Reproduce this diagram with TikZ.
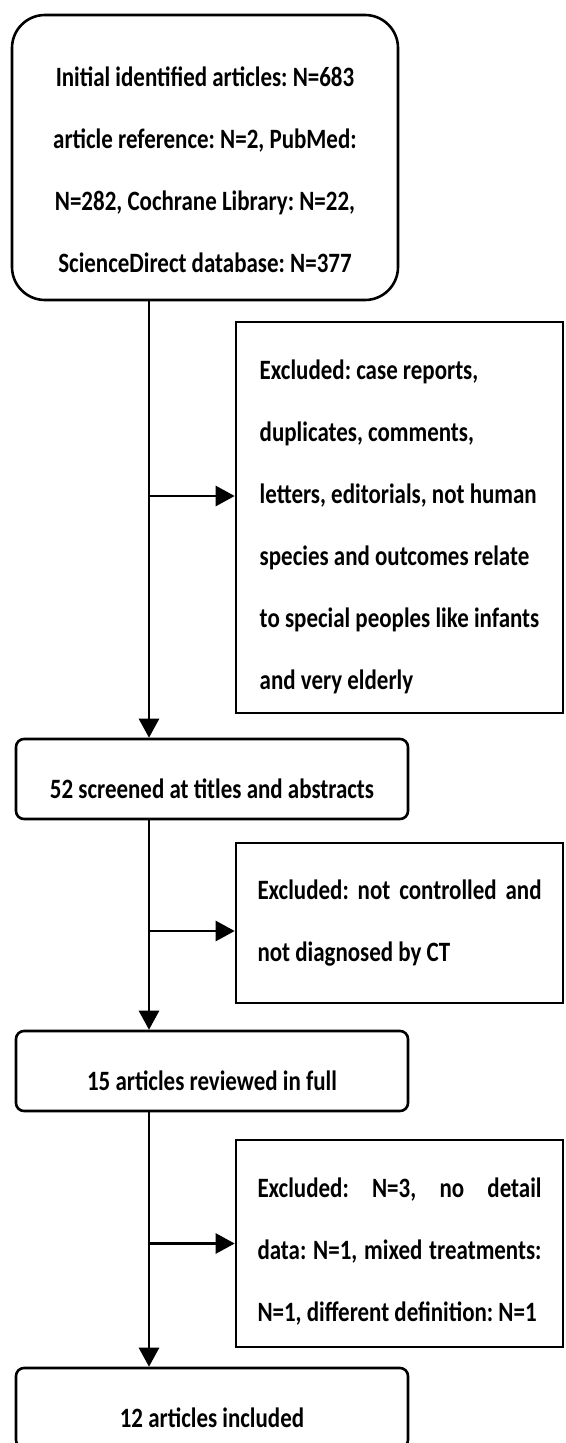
\documentclass[tikz,border=0pt]{standalone}
\usepackage{fontspec}
\setmainfont[FakeStretch=0.82]{Carlito}
\usepackage{tikz}
\usetikzlibrary{arrows.meta}
\frenchspacing

\begin{document}
\begin{tikzpicture}[
  x=1pt, y=-1pt,
  boxfont/.style={font=\fontsize{28}{62}\selectfont\bfseries},
  topbox/.style={boxfont, draw=black, line width=2.6pt, rounded corners=33pt, align=center, inner sep=0pt, minimum width=386pt, minimum height=285pt},
  flowbox/.style={boxfont, draw=black, line width=2.6pt, rounded corners=8pt, inner sep=0pt, minimum width=392pt, minimum height=80pt, text height=38pt, text depth=0pt},
  exclbox/.style={boxfont, draw=black, line width=2.6pt, inner sep=0pt, minimum width=327pt, align=left},
  arr/.style={-{Triangle[length=19pt, width=20pt]}, line width=2.6pt, draw=black}
]
\useasboundingbox (0,0) rectangle (565,1443);
\clip (0,0) rectangle (565,1443);
\coordinate (spine) at (149,0);
\node[topbox] (init) at (205,157.5) {\rule{0pt}{44pt}Initial identified articles: N=683\\article reference: N=2, PubMed:\\N=282, Cochrane Library: N=22,\\ScienceDirect database: N=377};
\node[exclbox, minimum height=391pt] (excl1) at (399.5,517.5) {\rule{0pt}{39pt}Excluded: case reports,\\duplicates, comments,\\letters, editorials, not human\\species and outcomes relate\\to special peoples like infants\\and very elderly};
\node[flowbox] (screen) at (212,779) {52 screened at titles and abstracts};
\node[exclbox, minimum height=160pt] (excl2) at (399.5,923) {\makebox[284pt][s]{Excluded: not controlled and}\\not diagnosed by CT};
\node[flowbox] (full) at (212,1071) {15 articles reviewed in full};
\node[exclbox, minimum height=207pt] (excl3) at (399.5,1243.5) {\rule{0pt}{36pt}\makebox[284pt][s]{Excluded: N=3, no detail}\\\makebox[284pt][s]{data: N=1, mixed treatments:}\\N=1, different definition: N=1};
\node[flowbox] (incl) at (212,1408) {12 articles included};
\draw[arr] (init.south -| spine) -- (screen.north -| spine);
\draw[arr] ([yshift=21.5pt]excl1.west -| spine) -- ([yshift=21.5pt]excl1.west);
\draw[arr] (screen.south -| spine) -- (full.north -| spine);
\draw[arr] ([yshift=-8pt]excl2.west -| spine) -- ([yshift=-8pt]excl2.west);
\draw[arr] (full.south -| spine) -- (incl.north -| spine);
\draw[arr] (excl3.west -| spine) -- (excl3.west);
\end{tikzpicture}
\end{document}
